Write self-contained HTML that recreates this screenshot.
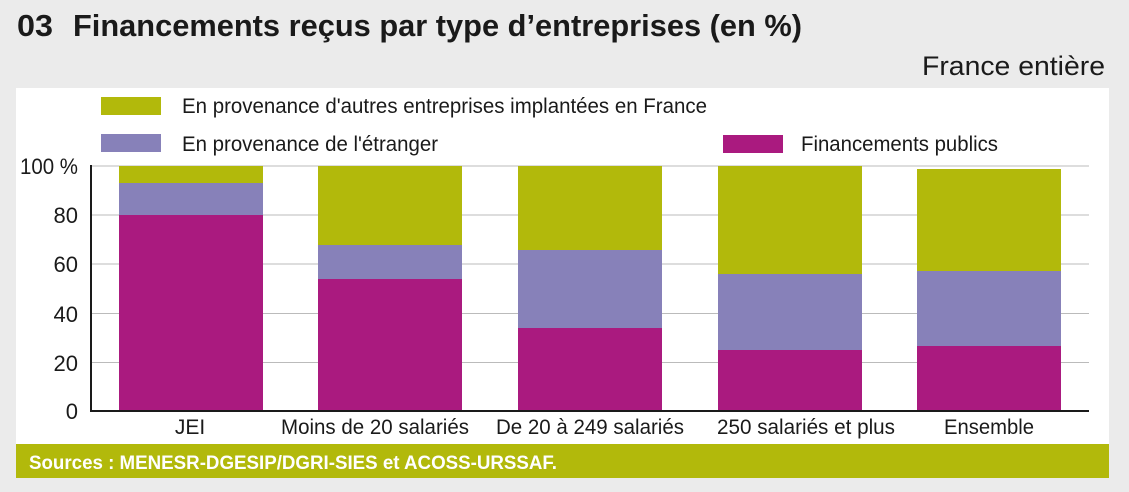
<!DOCTYPE html>
<html><head><meta charset="utf-8"><style>
html,body{margin:0;padding:0;background:#ebebeb;}
svg{display:block;}
</style></head><body>
<svg width="1129" height="492" viewBox="0 0 1129 492" xmlns="http://www.w3.org/2000/svg" font-family="Liberation Sans, sans-serif">
<rect width="1129" height="492" fill="#ebebeb"/>
<text x="17" y="36" font-size="31" font-weight="bold" fill="#1a1a1a" textLength="36" lengthAdjust="spacingAndGlyphs">03</text>
<text x="73" y="36" font-size="31" font-weight="bold" fill="#1a1a1a" textLength="729" lengthAdjust="spacingAndGlyphs">Financements reçus par type d’entreprises (en %)</text>
<text x="1105" y="75" font-size="27" fill="#1a1a1a" text-anchor="end" textLength="183" lengthAdjust="spacingAndGlyphs">France entière</text>
<rect x="16" y="88" width="1093" height="356" fill="#fff"/>
<rect x="16" y="444" width="1093" height="34" fill="#b2b90b"/>
<text x="29" y="469" font-size="19" font-weight="bold" fill="#fff" textLength="528" lengthAdjust="spacingAndGlyphs">Sources : MENESR-DGESIP/DGRI-SIES et ACOSS-URSSAF.</text>
<rect x="101" y="97" width="60" height="18" fill="#b2b90b"/>
<text x="182" y="113" font-size="21" fill="#1a1a1a" textLength="525" lengthAdjust="spacingAndGlyphs">En provenance d'autres entreprises implantées en France</text>
<rect x="101" y="134" width="60" height="18" fill="#8781b9"/>
<text x="182" y="151" font-size="21" fill="#1a1a1a" textLength="256" lengthAdjust="spacingAndGlyphs">En provenance de l'étranger</text>
<rect x="723" y="135" width="60" height="18" fill="#aa1a7f"/>
<text x="801" y="151" font-size="21" fill="#1a1a1a" textLength="197" lengthAdjust="spacingAndGlyphs">Financements publics</text>
<g stroke="#bbb" stroke-width="1">
<line x1="91" y1="166" x2="1089" y2="166"/>
<line x1="91" y1="215" x2="1089" y2="215"/>
<line x1="91" y1="264" x2="1089" y2="264"/>
<line x1="91" y1="313.5" x2="1089" y2="313.5"/>
<line x1="91" y1="362.5" x2="1089" y2="362.5"/>
</g>
<g font-size="22" fill="#1a1a1a" text-anchor="end">
<text x="78" y="174" textLength="58" lengthAdjust="spacingAndGlyphs">100 %</text>
<text x="78" y="223">80</text>
<text x="78" y="272">60</text>
<text x="78" y="322">40</text>
<text x="78" y="371">20</text>
<text x="78" y="419">0</text>
</g>
<g>
<rect x="119" y="166" width="144" height="18" fill="#b2b90b"/>
<rect x="119" y="183" width="144" height="32" fill="#8781b9"/>
<rect x="119" y="215" width="144" height="196" fill="#aa1a7f"/>
<rect x="318" y="166" width="144" height="79" fill="#b2b90b"/>
<rect x="318" y="245" width="144" height="34" fill="#8781b9"/>
<rect x="318" y="279" width="144" height="132" fill="#aa1a7f"/>
<rect x="518" y="166" width="144" height="84" fill="#b2b90b"/>
<rect x="518" y="250" width="144" height="78" fill="#8781b9"/>
<rect x="518" y="328" width="144" height="83" fill="#aa1a7f"/>
<rect x="718" y="166" width="144" height="108" fill="#b2b90b"/>
<rect x="718" y="274" width="144" height="76" fill="#8781b9"/>
<rect x="718" y="350" width="144" height="61" fill="#aa1a7f"/>
<rect x="917" y="169" width="144" height="102" fill="#b2b90b"/>
<rect x="917" y="271" width="144" height="75" fill="#8781b9"/>
<rect x="917" y="346" width="144" height="65" fill="#aa1a7f"/>
</g>
<line x1="91" y1="165" x2="91" y2="412" stroke="#1a1a1a" stroke-width="2"/>
<line x1="90" y1="411" x2="1089" y2="411" stroke="#1a1a1a" stroke-width="2"/>
<g font-size="21" fill="#1a1a1a" text-anchor="middle">
<text x="190" y="434">JEI</text>
<text x="375" y="434" textLength="188" lengthAdjust="spacingAndGlyphs">Moins de 20 salariés</text>
<text x="590" y="434" textLength="188" lengthAdjust="spacingAndGlyphs">De 20 à 249 salariés</text>
<text x="806" y="434" textLength="178" lengthAdjust="spacingAndGlyphs">250 salariés et plus</text>
<text x="989" y="434" textLength="90" lengthAdjust="spacingAndGlyphs">Ensemble</text>
</g>
</svg>
</body></html>
